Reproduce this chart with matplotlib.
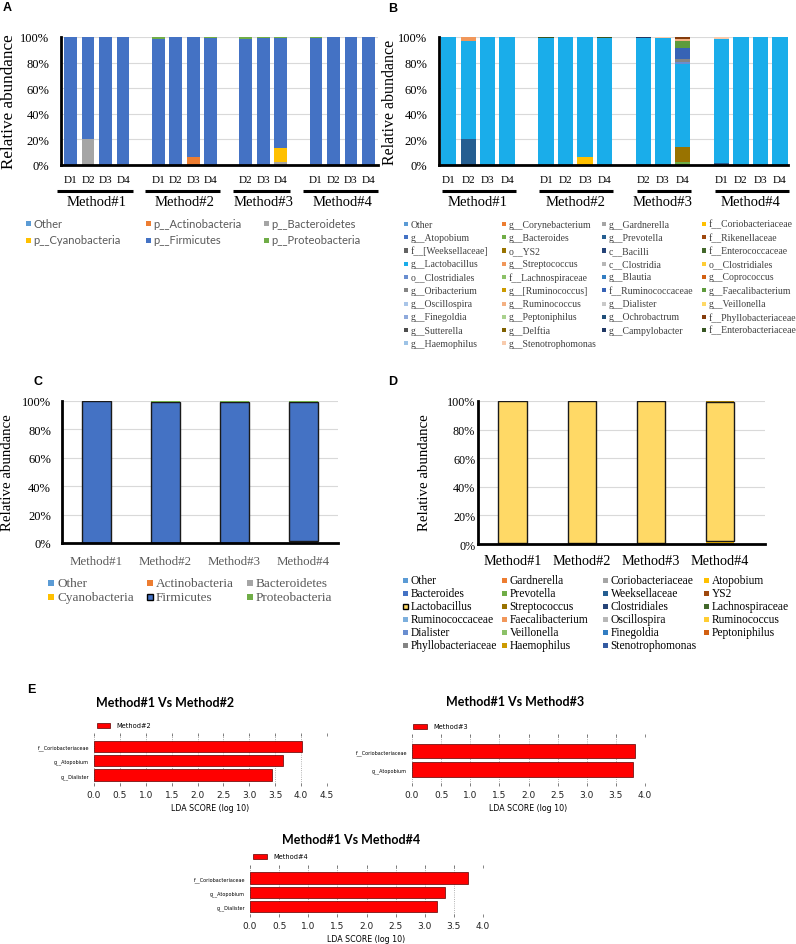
"""
Relative abundance (phylum / genus) by method + LEfSe LDA scores.
Panels A-D: stacked bars, E: three LDA bar charts.
Output: out.png (796x945)
"""

import numpy as np
import matplotlib
matplotlib.use("Agg")
import matplotlib.pyplot as plt
from matplotlib.patches import Rectangle

W, H = 796, 945
SERIF = "Liberation Serif"
SANS = "DejaVu Sans"
plt.rcParams["font.family"] = [SERIF, "DejaVu Sans"]

# ==================== data ====================

METHODS = ["Method#1", "Method#2", "Method#3", "Method#4"]
SAMPLE_DAYS = [["D1", "D2", "D3", "D4"],
               ["D1", "D2", "D3", "D4"],
               ["D2", "D3", "D4"],
               ["D1", "D2", "D3", "D4"]]

# --- A: phylum, per sample (%) ---
A_NAMES = ["Other", "p__Actinobacteria", "p__Bacteroidetes",
           "p__Cyanobacteria", "p__Firmicutes", "p__Proteobacteria"]
A_COLORS = ["#5B9BD5", "#ED7D31", "#A5A5A5", "#FFC000", "#4472C4", "#70AD47"]
A_OTHER = [0, 0, 0, 0, 0, 0, 0, 0, 0, 0, 0, 0, 0, 0, 0]
A_ACTINO = [0, 0, 0, 0, 0, 0, 6, 0, 0, 0, 0, 0, 0, 0, 0]
A_BACTEROIDETES = [0, 20, 0, 0.6, 0, 0, 0, 0, 0, 0, 2, 0.6, 0, 0, 0]
A_CYANO = [0, 0, 0, 0, 0, 0, 0, 0, 0, 0, 11, 0, 0, 0, 0]
A_FIRMICUTES = [100, 80, 100, 99.4, 98.8, 100, 94, 98.9, 98.8, 98.9, 86, 98.5, 100, 100, 100]
A_PROTEO = [0, 0, 0, 0, 1.2, 0, 0, 1.1, 1.2, 1.1, 1, 0.9, 0, 0, 0]

# --- B: genus, per sample (%) ---
B_NAMES = [
    "Other", "g__Corynebacterium", "g__Gardnerella", "f__Coriobacteriaceae",
    "g__Atopobium", "g__Bacteroides", "g__Prevotella", "f__Rikenellaceae",
    "f__[Weeksellaceae]", "o__YS2", "c__Bacilli", "f__Enterococcaceae",
    "g__Lactobacillus", "g__Streptococcus", "c__Clostridia", "o__Clostridiales",
    "o__Clostridiales", "f__Lachnospiraceae", "g__Blautia", "g__Coprococcus",
    "g__Oribacterium", "g__[Ruminococcus]", "f__Ruminococcaceae", "g__Faecalibacterium",
    "g__Oscillospira", "g__Ruminococcus", "g__Dialister", "g__Veillonella",
    "g__Finegoldia", "g__Peptoniphilus", "g__Ochrobactrum", "f__Phyllobacteriaceae",
    "g__Sutterella", "g__Delftia", "g__Campylobacter", "f__Enterobacteriaceae",
    "g__Haemophilus", "g__Stenotrophomonas",
]
B_COLORS = [
    "#5B9BD5", "#ED7D31", "#A5A5A5", "#FFC000",
    "#4472C4", "#70AD47", "#255E91", "#9E480E",
    "#636363", "#997300", "#264478", "#43682B",
    "#1AADEA", "#F1975A", "#B7B7B7", "#FFCD33",
    "#698ED0", "#8CC168", "#327DC2", "#D26012",
    "#848484", "#CC9A00", "#3763B5", "#5E9B3C",
    "#A9C5E8", "#F4B183", "#C9C9C9", "#FFD966",
    "#8FAADC", "#A9D18E", "#1F4E79", "#843C0C",
    "#4D4D4D", "#7F6000", "#203864", "#375623",
    "#9DC3E6", "#F8CBAD",
]
B_LACTO = [100, 77, 100, 100, 99, 100, 94, 99, 99, 99, 65, 97, 100, 100, 100]
B_PREVOTELLA = [0, 20, 0, 0, 0, 0, 0, 0, 0, 0, 0, 1.5, 0, 0, 0]
B_STREPTO = [0, 3, 0, 0, 0, 0, 0, 0, 0, 0, 0, 0, 0, 0, 0]
B_CORIOBACT = [0, 0, 0, 0, 0, 0, 6, 0, 0, 0, 0, 0, 0, 0, 0]
B_ENTEROBACT = [0, 0, 0, 0, 1, 0, 0, 1, 0, 0, 0, 0, 0, 0, 0]
B_CAMPYLO = [0, 0, 0, 0, 0, 0, 0, 0, 1, 0, 0, 0, 0, 0, 0]
B_STENO = [0, 0, 0, 0, 0, 0, 0, 0, 0, 1, 0, 1.5, 0, 0, 0]
B_BACTEROIDES = [0, 0, 0, 0, 0, 0, 0, 0, 0, 0, 2, 0, 0, 0, 0]
B_YS2 = [0, 0, 0, 0, 0, 0, 0, 0, 0, 0, 12, 0, 0, 0, 0]
B_CLOSTRIDIALES = [0, 0, 0, 0, 0, 0, 0, 0, 0, 0, 1.5, 0, 0, 0, 0]
B_ORIBACT = [0, 0, 0, 0, 0, 0, 0, 0, 0, 0, 2, 0, 0, 0, 0]
B_RUMINOCOCCACEAE = [0, 0, 0, 0, 0, 0, 0, 0, 0, 0, 9, 0, 0, 0, 0]
B_FAECALI = [0, 0, 0, 0, 0, 0, 0, 0, 0, 0, 5, 0, 0, 0, 0]
B_RUMINOCOCCUS = [0, 0, 0, 0, 0, 0, 0, 0, 0, 0, 2, 0, 0, 0, 0]
B_PHYLLO = [0, 0, 0, 0, 0, 0, 0, 0, 0, 0, 1.5, 0, 0, 0, 0]

# --- C: phylum, pooled per method (%) ---
C_NAMES = ["Other", "Actinobacteria", "Bacteroidetes",
           "Cyanobacteria", "Firmicutes", "Proteobacteria"]
C_COLORS = A_COLORS
C_OTHER = [0, 0, 0, 0]
C_ACTINO = [0, 0, 0, 0]
C_BACTEROIDETES = [0, 0, 0, 1.5]
C_CYANO = [0, 0, 0, 0]
C_FIRMICUTES = [100, 99.4, 99.4, 97.9]
C_PROTEO = [0, 0.6, 0.6, 0.6]

# --- D: genus, pooled per method (%) ---
D_NAMES = [
    "Other", "Gardnerella", "Coriobacteriaceae", "Atopobium",
    "Bacteroides", "Prevotella", "Weeksellaceae", "YS2",
    "Lactobacillus", "Streptococcus", "Clostridiales", "Lachnospiraceae",
    "Ruminococcaceae", "Faecalibacterium", "Oscillospira", "Ruminococcus",
    "Dialister", "Veillonella", "Finegoldia", "Peptoniphilus",
    "Phyllobacteriaceae", "Haemophilus", "Stenotrophomonas",
]
D_COLORS = [
    "#5B9BD5", "#ED7D31", "#A5A5A5", "#FFC000",
    "#4472C4", "#70AD47", "#255E91", "#9E480E",
    "#FFD966", "#997300", "#264478", "#43682B",
    "#7CAFDD", "#F1975A", "#B7B7B7", "#FFCD33",
    "#698ED0", "#8CC168", "#327DC2", "#D26012",
    "#848484", "#CC9A00", "#335AA1",
]
D_CORIOBACT = [0, 0.5, 0.5, 0.8]
D_ATOPOBIUM = [0.3, 0.5, 0.4, 0.6]
D_PREVOTELLA = [0.2, 0, 0, 0.5]
D_LACTO = [99.5, 98.8, 98.9, 97.6]
D_STREPTO = [0, 0.2, 0.2, 0.5]

# --- E: LEfSe LDA scores (bottom -> top) ---
E1_TAXA = ["g__Dialister", "g__Atopobium", "f__Coriobacteriaceae"]
E1_LDA = [3.44, 3.65, 4.01]
E2_TAXA = ["g__Atopobium", "f__Coriobacteriaceae"]
E2_LDA = [3.79, 3.83]
E3_TAXA = ["g__Dialister", "g__Atopobium", "f__Coriobacteriaceae"]
E3_LDA = [3.21, 3.34, 3.74]

# ==================== helpers ====================

def ax_px(fig, l, t, r, b):
    """axes from pixel box (left, top, right, bottom)"""
    return fig.add_axes([l / W, 1 - b / H, (r - l) / W, (b - t) / H])


def fig_text(fig, x, y, s, **kw):
    fig.text(x / W, 1 - y / H, s, **kw)


def legend_grid(fig, names, colors, xs, y0, dy, size, fs, family, tcolor,
                tgap, edges=()):
    for i, (name, col) in enumerate(zip(names, colors)):
        r, c = divmod(i, len(xs))
        x, y = xs[c], y0 + r * dy
        ec = "black" if name in edges else "none"
        fig.add_artist(Rectangle((x / W, 1 - (y + size / 2) / H), size / W, size / H,
                                 transform=fig.transFigure, facecolor=col,
                                 edgecolor=ec, lw=1.0 if name in edges else 0))
        fig_text(fig, x + size + tgap, y, name, ha="left", va="center",
                 fontsize=fs, family=family, color=tcolor)


def stacked(ax, x, series, colors, width, edges=()):
    bottom = np.zeros(len(x))
    for idx, vals in enumerate(series):
        v = np.asarray(vals, dtype=float)
        if v.sum() > 0:
            has_edge = idx in edges
            ax.bar(x, v / 100, width, bottom=bottom / 100, color=colors[idx],
                   edgecolor="#1a1a1a" if has_edge else "none",
                   linewidth=1.0 if has_edge else 0, zorder=2)
        bottom += v


def style_abundance(ax, ytick_fs, ypad):
    ax.set_ylim(0, 1)
    ax.set_yticks(np.arange(0, 1.01, 0.2))
    ax.set_yticklabels([f"{int(round(t * 100))}%" for t in np.arange(0, 1.01, 0.2)],
                       fontsize=ytick_fs)
    ax.tick_params(axis="both", length=0)
    ax.tick_params(axis="y", pad=ypad)
    ax.yaxis.grid(True, color="#D9D9D9", lw=0.8)
    ax.set_axisbelow(True)
    for s in ("top", "right"):
        ax.spines[s].set_visible(False)
    for s in ("left", "bottom"):
        ax.spines[s].set_linewidth(2.0)
        ax.spines[s].set_color("black")
        ax.spines[s].set_zorder(3)


def sample_positions():
    pos, groups, k = [], [], 0
    for days in SAMPLE_DAYS:
        g = []
        for _ in days:
            g.append(k)
            k += 1
        pos += g
        groups.append(g)
        k += 1
    return np.array(pos), groups


def draw_samples_panel(ax, series, colors, width, xlim, ext):
    pos, groups = sample_positions()
    stacked(ax, pos, series, colors, width)
    ax.set_xlim(*xlim)
    style_abundance(ax, 9, 8.3)
    ax.set_xticks(pos)
    ax.set_xticklabels([d for days in SAMPLE_DAYS for d in days], fontsize=8)
    ax.tick_params(axis="x", pad=7.5)
    tr = ax.get_xaxis_transform()
    for name, g in zip(METHODS, groups):
        ax.plot([g[0] - ext[0], g[-1] + ext[1]], [-0.203, -0.203], color="black",
                lw=2.2, transform=tr, clip_on=False, solid_capstyle="butt")
        ax.text((g[0] + g[-1]) / 2, -0.283, name, transform=tr, ha="center",
                va="center", fontsize=10.5)


def draw_lda(fig, box, taxa, lda, xmax, ylim, legend_label, key_box, title, title_xy):
    ax = ax_px(fig, *box)
    y = np.arange(len(taxa))
    ax.barh(y, lda, height=0.8, color="#FF0000", edgecolor="#5a0000", lw=0.5, zorder=2)
    ax.set_xlim(0, xmax)
    ax.set_ylim(*ylim)
    ax.set_xticks(np.arange(0, xmax + 0.01, 0.5))
    ax.set_xticklabels([f"{t:.1f}" for t in np.arange(0, xmax + 0.01, 0.5)],
                       fontsize=6.5, family=SANS, color="#222222")
    ax.tick_params(axis="x", top=True, bottom=True, direction="in", length=2.5,
                   width=0.5, color="#555555", pad=3.2)
    ax.set_yticks(y)
    ax.set_yticklabels(taxa, fontsize=3.5, family=SANS)
    ax.tick_params(axis="y", length=0, pad=3.6)
    ax.xaxis.grid(True, linestyle=":", color="#999999", lw=0.6)
    ax.set_axisbelow(True)
    for s in ax.spines.values():
        s.set_visible(False)
    ax.set_xlabel("LDA SCORE (log 10)", fontsize=5.7, family=SANS, labelpad=2.5)
    kx, ky, kw, kh = key_box
    fig.add_artist(Rectangle((kx / W, 1 - (ky + kh / 2) / H), kw / W, kh / H,
                             transform=fig.transFigure, facecolor="#FF0000",
                             edgecolor="#5a0000", lw=0.5))
    fig_text(fig, kx + kw + 6, ky, legend_label, ha="left", va="center",
             fontsize=4.8, family=SANS)
    fig_text(fig, title_xy[0], title_xy[1], title, ha="center", va="center",
             fontsize=9, family="Lato", fontweight="bold")


# ==================== figure ====================

fig = plt.figure(figsize=(W / 100, H / 100), dpi=100)

# ---- A ----
axA = ax_px(fig, 61, 38, 378, 166)
draw_samples_panel(axA, [A_OTHER, A_ACTINO, A_BACTEROIDETES, A_CYANO, A_FIRMICUTES, A_PROTEO],
                   A_COLORS, 0.72, (-0.55, 17.55), (0.75, 0.55))
fig_text(fig, 9, 102, "Relative abundance", rotation=90, ha="center", va="center", fontsize=12.3)
legend_grid(fig, A_NAMES, A_COLORS, [26, 146, 264], 224, 17, 5, 8, "Lato", "#595959", 2)

# ---- B ----
axB = ax_px(fig, 439, 38, 788, 166)
b_series = [[0] * 15 for _ in B_NAMES]
b_series[B_NAMES.index("g__Lactobacillus")] = B_LACTO
b_series[B_NAMES.index("g__Prevotella")] = B_PREVOTELLA
b_series[B_NAMES.index("g__Streptococcus")] = B_STREPTO
b_series[B_NAMES.index("f__Coriobacteriaceae")] = B_CORIOBACT
b_series[B_NAMES.index("f__Enterobacteriaceae")] = B_ENTEROBACT
b_series[B_NAMES.index("g__Campylobacter")] = B_CAMPYLO
b_series[B_NAMES.index("g__Stenotrophomonas")] = B_STENO
b_series[B_NAMES.index("g__Bacteroides")] = B_BACTEROIDES
b_series[B_NAMES.index("o__YS2")] = B_YS2
b_series[16] = B_CLOSTRIDIALES  # second o__Clostridiales
b_series[B_NAMES.index("g__Oribacterium")] = B_ORIBACT
b_series[B_NAMES.index("f__Ruminococcaceae")] = B_RUMINOCOCCACEAE
b_series[B_NAMES.index("g__Faecalibacterium")] = B_FAECALI
b_series[B_NAMES.index("g__Ruminococcus")] = B_RUMINOCOCCUS
b_series[B_NAMES.index("f__Phyllobacteriaceae")] = B_PHYLLO
draw_samples_panel(axB, b_series, B_COLORS, 0.79, (-0.5, 17.42), (0.35, 0.45))
fig_text(fig, 390, 102, "Relative abundance", rotation=90, ha="center", va="center", fontsize=11.5)
legend_grid(fig, B_NAMES, B_COLORS, [404, 502, 602, 702], 225, 13.25, 4, 7, SERIF, "#404040", 2.5)

# ---- C ----
axC = ax_px(fig, 62, 402, 338, 544)
xm = np.arange(len(METHODS))
stacked(axC, xm, [C_OTHER, C_ACTINO, C_BACTEROIDETES, C_CYANO, C_FIRMICUTES, C_PROTEO],
        C_COLORS, 0.41, edges=(4,))
axC.set_xlim(-0.5, 3.5)
style_abundance(axC, 9, 8.0)
axC.set_xticks(xm)
axC.set_xticklabels(METHODS, fontsize=9.3, color="#595959")
axC.tick_params(axis="x", pad=8.3)
fig_text(fig, 8, 473, "Relative abundance", rotation=90, ha="center", va="center", fontsize=10.7)
legend_grid(fig, C_NAMES, C_COLORS, [48, 147, 247], 584, 14, 6, 9.5, SERIF, "#595959", 3,
            edges=("Firmicutes",))

# ---- D ----
axD = ax_px(fig, 478, 402, 765, 545)
d_series = [[0] * 4 for _ in D_NAMES]
d_series[D_NAMES.index("Coriobacteriaceae")] = D_CORIOBACT
d_series[D_NAMES.index("Atopobium")] = D_ATOPOBIUM
d_series[D_NAMES.index("Prevotella")] = D_PREVOTELLA
d_series[D_NAMES.index("Lactobacillus")] = D_LACTO
d_series[D_NAMES.index("Streptococcus")] = D_STREPTO
stacked(axD, xm, d_series, D_COLORS, 0.41, edges=(D_NAMES.index("Lactobacillus"),))
axD.set_xlim(-0.5, 3.65)
style_abundance(axD, 8.7, 2.0)
axD.set_xticks(xm)
axD.set_xticklabels(METHODS, fontsize=10.3)
axD.tick_params(axis="x", pad=7.2)
fig_text(fig, 424, 473, "Relative abundance", rotation=90, ha="center", va="center", fontsize=10.7)
legend_grid(fig, D_NAMES, D_COLORS, [403, 502, 603, 704], 581, 13.1, 5, 8.3, SERIF, "black", 2.5,
            edges=("Lactobacillus",))

# ---- E ----
draw_lda(fig, (94, 734, 327, 787), E1_TAXA, E1_LDA, 4.5, (-0.77, 2.94),
         "Method#2", (97, 726, 13, 5), "Method#1 Vs Method#2", (165, 703))
draw_lda(fig, (412, 735, 645, 787), E2_TAXA, E2_LDA, 4.0, (-0.89, 1.92),
         "Method#3", (413, 727, 14, 5), "Method#1 Vs Method#3", (515, 702))
draw_lda(fig, (250, 866, 483, 918), E3_TAXA, E3_LDA, 4.0, (-0.74, 2.92),
         "Method#4", (253, 857, 14, 5), "Method#1 Vs Method#4", (351, 840))

# ---- panel letters ----
for letter, (x, y) in {"A": (3, 8), "B": (388, 9), "C": (33, 382),
                       "D": (388, 382), "E": (27, 690)}.items():
    fig_text(fig, x, y, letter, ha="left", va="center", fontsize=9,
             family="Liberation Sans", fontweight="bold")

fig.savefig("out.png", dpi=100, facecolor="white")
